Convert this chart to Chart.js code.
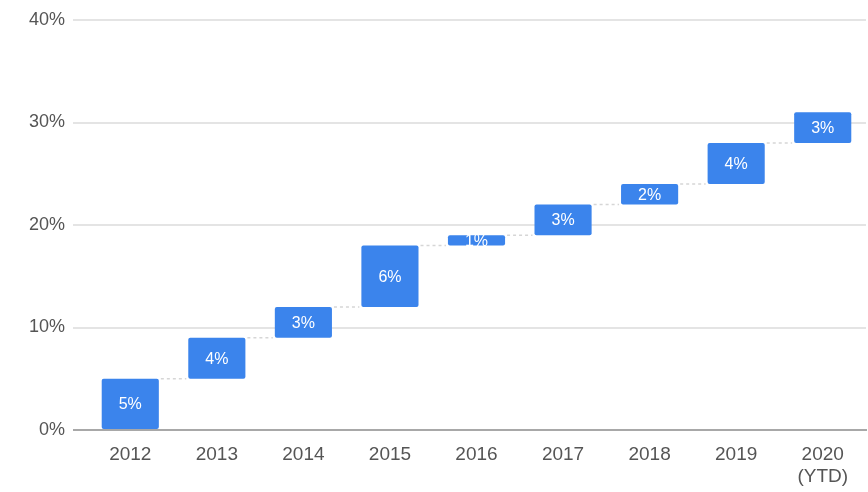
<!DOCTYPE html>
<html>
<head>
<meta charset="utf-8">
<script src="https://cdn.jsdelivr.net/npm/chart.js@4/dist/chart.umd.min.js"></script>
<style>
    html, body { margin: 0; padding: 0; background: #fff; }
    #wrap { width: 868px; height: 492px; }
</style>
</head>
<body>
<div id="wrap"><canvas id="waterfall-chart"></canvas></div>
<script>
const years = ['2012', '2013', '2014', '2015', '2016', '2017', '2018', '2019', ['2020', '(YTD)']];
const barStarts = [0, 5, 9, 12, 18, 19, 22, 24, 28];
const barEnds = [5, 9, 12, 18, 19, 22, 24, 28, 31];
const changeLabels = ['5%', '4%', '3%', '6%', '1%', '3%', '2%', '4%', '3%'];
const yTicks = [0, 10, 20, 30, 40];

const barColor = '#3b84ec';
const labelFont = '"Liberation Sans", Arial, sans-serif';

// faint dashed line joining each bar to the next one
const connectorPlugin = {
    id: 'connectors',
    beforeDatasetsDraw(chart) {
        const ctx = chart.ctx;
        const meta = chart.getDatasetMeta(0);
        const yScale = chart.scales.y;
        ctx.save();
        ctx.strokeStyle = '#d6d6d6';
        ctx.lineWidth = 1.5;
        ctx.setLineDash([3, 3]);
        for (let i = 0; i < meta.data.length - 1; i++) {
            const a = meta.data[i];
            const b = meta.data[i + 1];
            const y = yScale.getPixelForValue(barEnds[i]);
            ctx.beginPath();
            ctx.moveTo(a.x + a.width / 2 + 2, y);
            ctx.lineTo(b.x - b.width / 2 - 2, y);
            ctx.stroke();
        }
        ctx.restore();
    }
};

// value text in the middle of each bar
const barTextPlugin = {
    id: 'barText',
    afterDatasetsDraw(chart) {
        const ctx = chart.ctx;
        const meta = chart.getDatasetMeta(0);
        ctx.save();
        ctx.fillStyle = '#ffffff';
        ctx.font = '16px ' + labelFont;
        ctx.textAlign = 'center';
        ctx.textBaseline = 'middle';
        meta.data.forEach((bar, i) => {
            ctx.fillText(changeLabels[i], bar.x, (bar.y + bar.base) / 2 + 1);
        });
        ctx.restore();
    }
};

const ctx = document.getElementById('waterfall-chart').getContext('2d');

new Chart(ctx, {
    type: 'bar',
    data: {
        labels: years,
        datasets: [{
            data: barStarts.map((s, i) => [s, barEnds[i]]),
            backgroundColor: barColor,
            borderWidth: 0,
            borderRadius: 2,
            borderSkipped: false,
            barPercentage: 0.66,
            categoryPercentage: 1
        }]
    },
    options: {
        responsive: true,
        maintainAspectRatio: false,
        animation: false,
        layout: {
            padding: { top: 20, right: 2, left: 0, bottom: 0 }
        },
        scales: {
            x: {
                grid: { display: false, drawTicks: false },
                border: { display: true, color: '#a8a8a8', width: 2 },
                ticks: {
                    color: '#555',
                    padding: 13,
                    font: { family: labelFont, size: 19 }
                },
                afterFit: function(axis) { axis.height = 62; }
            },
            y: {
                min: 0,
                max: 40,
                afterBuildTicks: function(axis) {
                    axis.ticks = yTicks.map(v => ({ value: v }));
                },
                grid: {
                    color: function(context) {
                        return context.tick && context.tick.value === 0 ? '#a8a8a8' : '#e4e4e4';
                    },
                    lineWidth: 2,
                    tickLength: 14
                },
                border: { display: false },
                ticks: {
                    color: '#555',
                    padding: 8,
                    font: { family: labelFont, size: 18 },
                    callback: function(value) { return value + '%'; }
                },
                afterFit: function(axis) { axis.width = 87; }
            }
        },
        plugins: {
            legend: { display: false },
            tooltip: { enabled: false }
        }
    },
    plugins: [connectorPlugin, barTextPlugin]
});
</script>
</body>
</html>
